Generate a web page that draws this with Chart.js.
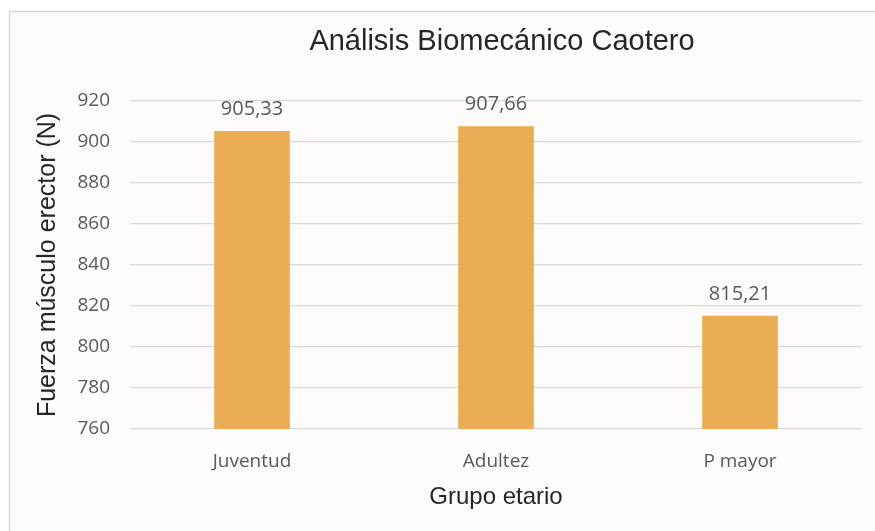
<!DOCTYPE html>
<html>
<head>
<meta charset="utf-8">
<script src="https://cdn.jsdelivr.net/npm/chart.js@4/dist/chart.umd.min.js"></script>
<style>
  html, body { margin: 0; padding: 0; background: #ffffff; }
  #wrap { width: 875px; height: 531px; }
</style>
</head>
<body>
<div id="wrap"><canvas id="grafico" width="875" height="531"></canvas></div>
<script>
// datos del análisis
const grupos = ["Juventud", "Adultez", "P mayor"];
const fuerza = [905.33, 907.66, 815.21];
const ticksEje = [760, 780, 800, 820, 840, 860, 880, 900, 920];
const titulo = "Análisis Biomecánico Caotero";

const grisTexto = "#595959";

// fondo del panel con su borde
const fondoPanel = {
  id: "fondoPanel",
  beforeDraw(chart) {
    const ctx = chart.ctx;
    ctx.save();
    ctx.fillStyle = "#ffffff";
    ctx.fillRect(0, 0, chart.width, chart.height);
    ctx.fillStyle = "#fdfcfa";
    ctx.fillRect(9, 11, chart.width - 9, chart.height - 11);
    ctx.strokeStyle = "#d9d9d9";
    ctx.lineWidth = 1.5;
    ctx.beginPath();
    ctx.moveTo(9.5, chart.height);
    ctx.lineTo(9.5, 11.5);
    ctx.lineTo(chart.width, 11.5);
    ctx.stroke();
    ctx.restore();
  }
};

// título centrado sobre el área de las barras
const tituloGrafico = {
  id: "tituloGrafico",
  afterDraw(chart) {
    const ctx = chart.ctx;
    const area = chart.chartArea;
    ctx.save();
    ctx.font = "29px 'Liberation Sans', Arial";
    ctx.fillStyle = "#262626";
    ctx.textAlign = "center";
    ctx.textBaseline = "middle";
    ctx.fillText(titulo, (area.left + area.right) / 2 + 6, 42);
    ctx.restore();
  }
};

// etiqueta con el valor encima de cada barra
const etiquetasValor = {
  id: "etiquetasValor",
  afterDatasetsDraw(chart) {
    const ctx = chart.ctx;
    const meta = chart.getDatasetMeta(0);
    ctx.save();
    ctx.font = "20px 'Open Sans'";
    ctx.fillStyle = grisTexto;
    ctx.textAlign = "center";
    ctx.textBaseline = "bottom";
    meta.data.forEach((bar, i) => {
      const texto = fuerza[i].toFixed(2).replace(".", ",");
      ctx.fillText(texto, bar.x, bar.y - 12);
    });
    ctx.restore();
  }
};

new Chart(document.getElementById("grafico"), {
  type: "bar",
  data: {
    labels: grupos,
    datasets: [{
      data: fuerza,
      backgroundColor: "#ebac56",
      barPercentage: 0.31,
      categoryPercentage: 1
    }]
  },
  options: {
    responsive: false,
    animation: false,
    layout: { padding: { left: 33, right: 13, top: 101, bottom: 19 } },
    plugins: {
      legend: { display: false },
      tooltip: { enabled: false },
      title: { display: false }
    },
    scales: {
      x: {
        grid: { display: false },
        border: { display: false },
        ticks: {
          color: grisTexto,
          font: { family: "'Open Sans'", size: 19 },
          padding: 13
        },
        title: {
          display: true,
          text: "Grupo etario",
          color: "#262626",
          font: { family: "'Liberation Sans', Arial", size: 24 },
          padding: 0
        },
        afterFit(scale) { scale.height = 83; }
      },
      y: {
        min: 760,
        max: 920,
        afterBuildTicks(scale) {
          scale.ticks = ticksEje.map(v => ({ value: v }));
        },
        grid: { color: "#d9d9d9", lineWidth: 1.3, drawTicks: false },
        border: { display: false },
        ticks: {
          color: grisTexto,
          font: { family: "'Open Sans'", size: 19 },
          padding: 20
        },
        title: {
          display: true,
          text: "Fuerza músculo erector (N)",
          color: "#262626",
          font: { family: "'Liberation Sans', Arial", size: 25 },
          padding: 0
        },
        afterFit(scale) { scale.width = 97; }
      }
    }
  },
  plugins: [fondoPanel, tituloGrafico, etiquetasValor]
});
</script>
</body>
</html>
